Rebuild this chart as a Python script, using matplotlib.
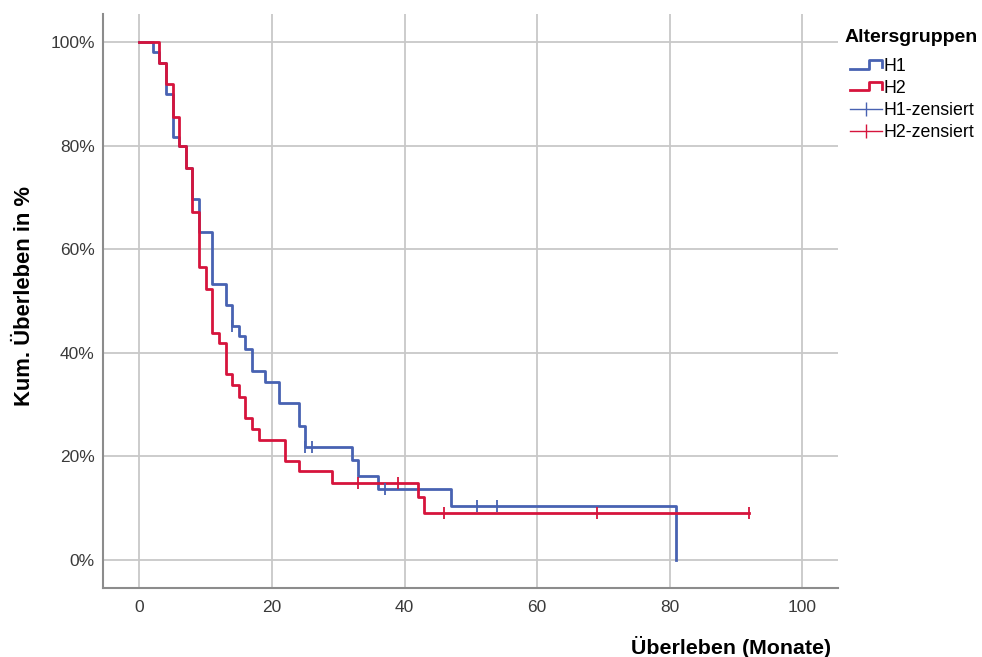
import matplotlib
matplotlib.use('Agg')
import matplotlib.pyplot as plt
from matplotlib.lines import Line2D
from matplotlib.legend_handler import HandlerBase

plt.rcParams['font.family'] = ['Liberation Sans', 'DejaVu Sans']

# Kaplan-Meier Stufen (Monate, Überleben in %)
h1_t = [0, 2, 3, 4, 5, 6, 7, 8, 9, 11, 13, 14, 15, 16, 17, 19, 21, 24, 25,
        32, 33, 36, 47, 81]
h1_s = [100, 98.1, 96.1, 90.0, 81.7, 79.9, 75.7, 69.7, 63.4, 53.3, 49.2,
        45.2, 43.2, 40.7, 36.5, 34.4, 30.3, 25.9, 21.7, 19.2, 16.2, 13.7,
        10.3, 0]
h2_t = [0, 3, 4, 5, 6, 7, 8, 9, 10, 11, 12, 13, 14, 15, 16, 17, 18, 22, 24,
        29, 42, 43, 92]
h2_s = [100, 96.0, 91.9, 85.5, 79.9, 75.7, 67.2, 56.5, 52.4, 43.9, 41.9,
        35.9, 33.7, 31.5, 27.3, 25.3, 23.2, 19.0, 17.1, 14.9, 12.1, 9.1, 9.1]

# zensierte Fälle
h1_ct = [14, 25, 26, 37, 51, 54]
h1_cs = [45.2, 21.7, 21.7, 13.7, 10.3, 10.3]
h2_ct = [33, 39, 46, 69, 92]
h2_cs = [14.9, 14.9, 9.1, 9.1, 9.1]

xticks = [0, 20, 40, 60, 80, 100]
yticks = [0, 20, 40, 60, 80, 100]

blue = '#4862b2'
red = '#d6143c'


class StepHandler(HandlerBase):
    # Legendensymbol als kleine Treppe
    def create_artists(self, legend, orig_handle, xdescent, ydescent,
                       width, height, fontsize, trans):
        x0 = -xdescent
        y0 = -ydescent
        xs = [x0, x0 + 0.6 * width, x0 + 0.6 * width, x0 + width, x0 + width]
        ys = [y0 + 0.2 * height, y0 + 0.2 * height, y0 + 0.9 * height,
              y0 + 0.9 * height, y0 + 0.35 * height]
        ln = Line2D(xs, ys, color=orig_handle.get_color(),
                    lw=orig_handle.get_linewidth(), transform=trans)
        return [ln]


fig = plt.figure(figsize=(9.82, 6.57), dpi=100)
ax = fig.add_axes([103 / 982, 1 - 588 / 657, (838 - 103) / 982, (588 - 14) / 657])

l1, = ax.step(h1_t, h1_s, where='post', color=blue, lw=2.0, zorder=3)
l2, = ax.step(h2_t, h2_s, where='post', color=red, lw=2.0, zorder=4)
ax.plot(h1_ct, h1_cs, ls='none', marker='|', ms=9, mew=1.3, color=blue, zorder=5)
ax.plot(h2_ct, h2_cs, ls='none', marker='|', ms=9, mew=1.3, color=red, zorder=5)

ax.set_xlim(-5.5, 105.4)
ax.set_ylim(-5.5, 105.5)
ax.set_xticks(xticks)
ax.set_yticks(yticks)
ax.set_yticklabels([f'{v}%' for v in yticks])
ax.grid(color='#c8c8c8', lw=1.3)
ax.set_axisbelow(True)
for s in ['top', 'right']:
    ax.spines[s].set_visible(False)
for s in ['left', 'bottom']:
    ax.spines[s].set_color('#8c8c8c')
    ax.spines[s].set_linewidth(1.5)
ax.tick_params(axis='x', length=0, pad=9, labelsize=12.5, labelcolor='#3a3a3a')
ax.tick_params(axis='y', length=0, pad=6, labelsize=12.5, labelcolor='#3a3a3a')

fig.text(831 / 982, 1 - 647 / 657, 'Überleben (Monate)', ha='right', va='center',
         fontsize=15.4, fontweight='bold')
fig.text(25 / 982, 1 - 296 / 657, 'Kum. Überleben in %', ha='center', va='center',
         rotation=90, fontsize=15.8, fontweight='bold')

# Legende: Titel separat, damit der Abstand passt
fig.text(845 / 982, 1 - 37 / 657, 'Altersgruppen', ha='left', va='center',
         fontsize=14.0, fontweight='bold')
c1 = Line2D([], [], color=blue, lw=1.0, marker='|', ms=10, mew=1.0)
c2 = Line2D([], [], color=red, lw=1.0, marker='|', ms=10, mew=1.0)
fig.legend([l1, l2, c1, c2], ['H1', 'H2', 'H1-zensiert', 'H2-zensiert'],
           loc='upper left', bbox_to_anchor=(850 / 982, 1 - 58 / 657),
           frameon=False,
           handler_map={l1: StepHandler(), l2: StepHandler()},
           handlelength=1.8, handletextpad=0.1, labelspacing=0.28,
           fontsize=12.8, borderaxespad=0, borderpad=0)

fig.savefig('out.png', dpi=100)
